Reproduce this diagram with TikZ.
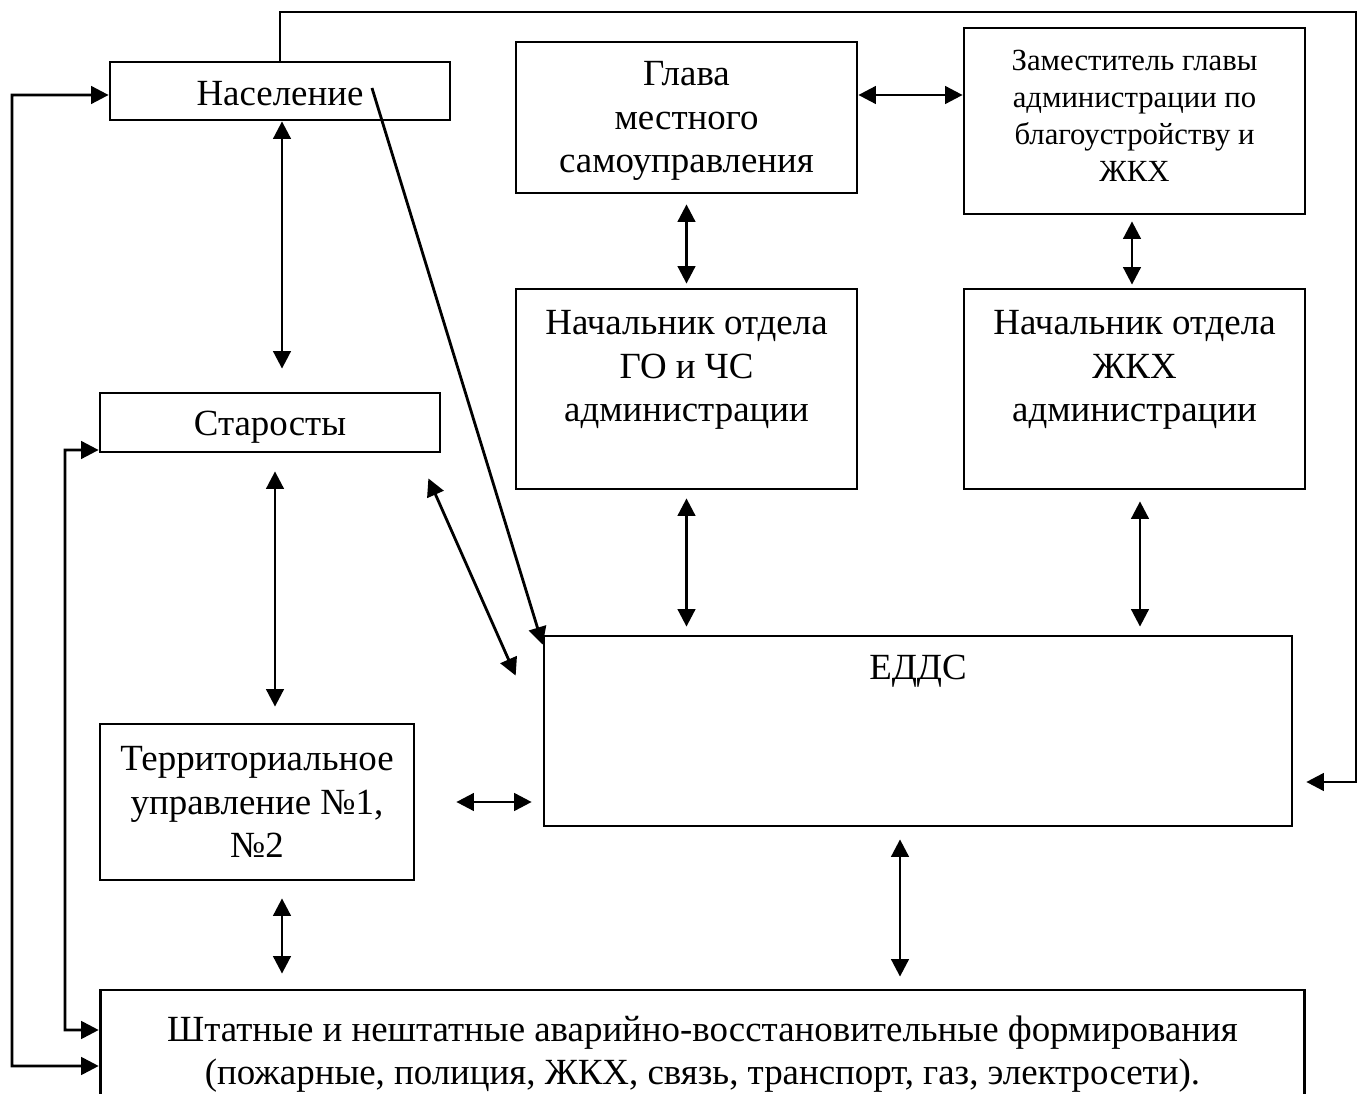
\documentclass[tikz,border=0pt]{standalone}
\usepackage{fontspec}
\setmainfont{Liberation Serif}
\usetikzlibrary{arrows.meta}

\begin{document}
\begin{tikzpicture}[x=0.02cm,y=-0.02cm]
\tikzstyle{box}=[draw=black,line width=1.6pt,inner sep=0pt,align=center,font=\fontsize{21}{24.7}\selectfont]
\tikzstyle{txt}=[inner sep=0pt,align=center,font=\fontsize{21}{24.7}\selectfont]
\tikzstyle{conn}=[black,line width=1.6pt,>={Triangle[length=10pt,width=10pt]}]
\useasboundingbox (0,0) rectangle (1360,1094);
\node [box,minimum width=6.8cm,minimum height=1.16cm] (nas) at (280,91) {};
\node [txt] (nastxt) at (280,94) {Население};
\node [box,minimum width=6.82cm,minimum height=3.02cm] (glava) at (686.5,117.5) {};
\node [txt] (glavatxt) at (686.5,121) {Глава\\местного\\самоуправления};
\node [box,minimum width=6.82cm,minimum height=3.72cm] (zam) at (1134.5,121) {};
\node [txt,font=\fontsize{17.5}{21}\selectfont] (zamtxt) at (1134.5,116) {Заместитель главы\\администрации по\\благоустройству и\\ЖКХ};
\node [box,minimum width=6.8cm,minimum height=1.18cm] (star) at (270,422.5) {};
\node [txt] (startxt) at (270,427) {Старосты};
\node [box,minimum width=6.82cm,minimum height=4cm] (go) at (686.5,389) {};
\node [txt] (gotxt) at (686.5,370) {Начальник отдела\\ГО и ЧС\\администрации};
\node [box,minimum width=6.82cm,minimum height=4cm] (zhkh) at (1134.5,389) {};
\node [txt] (zhkhtxt) at (1134.5,370) {Начальник отдела\\ЖКХ\\администрации};
\node [box,minimum width=14.96cm,minimum height=3.8cm] (edds) at (918,731) {};
\node [txt] (eddstxt) at (918,671) {ЕДДС};
\node [box,minimum width=6.28cm,minimum height=3.12cm] (terr) at (257,802) {Территориальное\\управление №1,\\№2};
\node [box,minimum width=24.1cm,minimum height=2.44cm] (sht) at (702.5,1051) {};
\node [txt] (shttxt) at (702.5,1054) {Штатные и нештатные аварийно-восстановительные формирования\\(пожарные, полиция, ЖКХ, связь, транспорт, газ, электросети).};
\draw [conn,->] (nas.north) |- (1356,12) |- ([xshift=0.26cm,yshift=-1.02cm]edds.east);
\draw [conn,<->] ([yshift=-0.08cm]nas.west) -| (12,1066) -- ([yshift=-0.3cm]sht.west);
\draw [conn,<->] ([yshift=-0.55cm]star.west) -| (65,1030) -- ([yshift=0.42cm]sht.west);
\draw [conn,<->,shorten >=0.46cm] ([xshift=0.04cm]nas.south) -- ([xshift=0.04cm]nas.south |- star.north);
\draw [conn,->] ([xshift=1.84cm,yshift=0.06cm]nas.center) -- ([yshift=-0.2cm]edds.north west);
\draw [conn,<->] ([yshift=0.45cm]glava.east) -- ([yshift=0.45cm]glava.east -| zam.west);
\draw [conn,<->,shorten <=0.2cm,shorten >=0.08cm] (glava.south) -- (go.north);
\draw [conn,<->,shorten <=0.12cm,shorten >=0.06cm] ([xshift=-0.05cm]zam.south) -- ([xshift=-0.05cm]zam.south |- zhkh.north);
\draw [conn,<->,shorten <=0.16cm,shorten >=0.16cm] (go.south) -- (go.south |- edds.north);
\draw [conn,<->,shorten <=0.22cm,shorten >=0.16cm] ([xshift=0.11cm]zhkh.south) -- ([xshift=0.11cm]zhkh.south |- edds.north);
\draw [conn,<->] ([xshift=-0.26cm,yshift=-0.5cm]star.south east) -- ([xshift=-0.54cm,yshift=-0.82cm]edds.north west);
\draw [conn,<->,shorten <=0.36cm,shorten >=0.32cm] ([xshift=0.1cm]star.south) -- ([xshift=0.1cm]star.south |- terr.north);
\draw [conn,<->,shorten <=0.82cm,shorten >=0.22cm] (terr.east) -- (terr.east -| edds.west);
\draw [conn,<->,shorten <=0.34cm,shorten >=0.3cm] ([xshift=0.04cm]nas.south |- terr.south) -- ([xshift=0.04cm]nas.south |- sht.north);
\draw [conn,<->,shorten <=0.24cm,shorten >=0.24cm] ([xshift=-0.36cm]edds.south) -- ([xshift=-0.36cm]edds.south |- sht.north);
\end{tikzpicture}
\end{document}
